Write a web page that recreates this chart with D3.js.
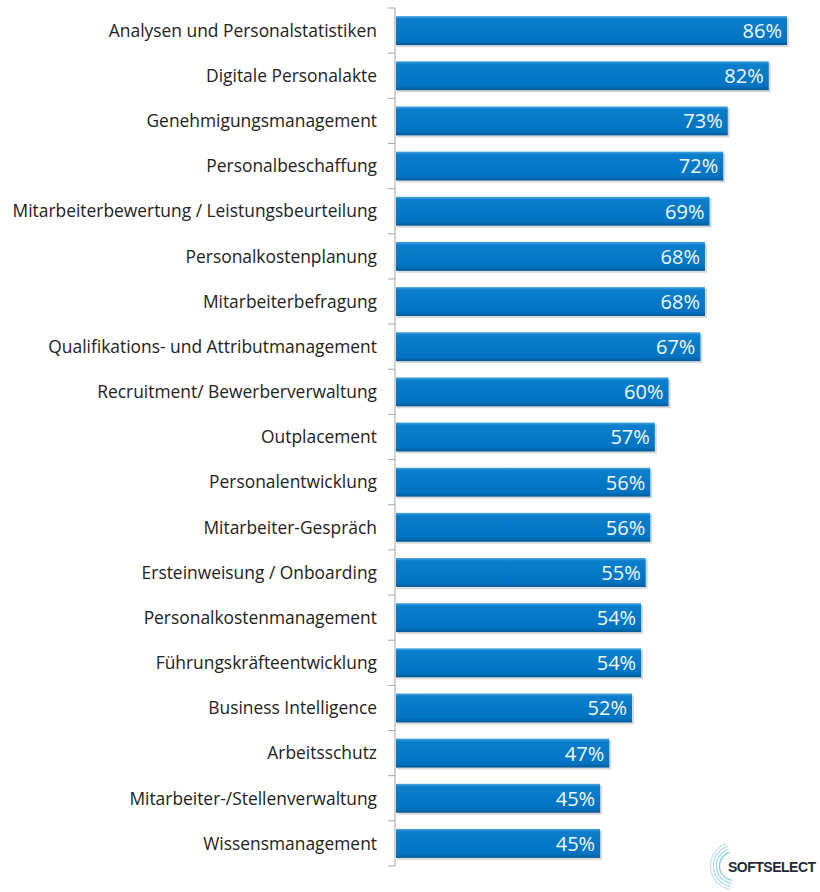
<!DOCTYPE html>
<html lang="de">
<head>
<meta charset="UTF-8">
<title>HR-Software Funktionen</title>
<script src="https://d3js.org/d3.v7.min.js"></script>
<style>
    body { margin: 0; background: #fff; }
    svg { display: block; }
</style>
</head>
<body>
<div id="chart"></div>
<script>
    const categories = [
        "Analysen und Personalstatistiken",
        "Digitale Personalakte",
        "Genehmigungsmanagement",
        "Personalbeschaffung",
        "Mitarbeiterbewertung / Leistungsbeurteilung",
        "Personalkostenplanung",
        "Mitarbeiterbefragung",
        "Qualifikations- und Attributmanagement",
        "Recruitment/ Bewerberverwaltung",
        "Outplacement",
        "Personalentwicklung",
        "Mitarbeiter-Gespräch",
        "Ersteinweisung / Onboarding",
        "Personalkostenmanagement",
        "Führungskräfteentwicklung",
        "Business Intelligence",
        "Arbeitsschutz",
        "Mitarbeiter-/Stellenverwaltung",
        "Wissensmanagement"
    ];
    const values = [86, 82, 73, 72, 69, 68, 68, 67, 60, 57, 56, 56, 55, 54, 54, 52, 47, 45, 45];

    const width = 820, height = 892;
    const margin = {top: 8, right: 33, bottom: 26, left: 395};

    const svg = d3.select("#chart").append("svg")
        .attr("width", width)
        .attr("height", height);

    const defs = svg.append("defs");
    const grad = defs.append("linearGradient")
        .attr("id", "barGrad")
        .attr("x1", 0).attr("y1", 0).attr("x2", 0).attr("y2", 1);
    grad.append("stop").attr("offset", "0%").attr("stop-color", "#4aa6e0");
    grad.append("stop").attr("offset", "10%").attr("stop-color", "#0b7fcc");
    grad.append("stop").attr("offset", "85%").attr("stop-color", "#0074c2");
    grad.append("stop").attr("offset", "100%").attr("stop-color", "#005a98");

    const x = d3.scaleLinear()
        .domain([0, 86])
        .range([margin.left, 787]);

    const y = d3.scaleBand()
        .domain(categories)
        .range([margin.top, height - margin.bottom])
        .paddingInner(0.36)
        .paddingOuter(0.18);

    // axis line, ticks sit between the categories
    const g = svg.append("g");
    g.append("line")
        .attr("x1", margin.left).attr("x2", margin.left)
        .attr("y1", margin.top).attr("y2", height - margin.bottom)
        .attr("stroke", "#a6a6a6").attr("stroke-width", 1);

    const boundaries = d3.range(categories.length + 1).map(i => margin.top + i * y.step());
    g.selectAll("line.tick")
        .data(boundaries)
        .enter()
        .append("line")
        .attr("class", "tick")
        .attr("x1", margin.left - 7).attr("x2", margin.left)
        .attr("y1", d => d).attr("y2", d => d)
        .attr("stroke", "#a6a6a6");

    // bar shadows
    svg.selectAll("rect.shadow")
        .data(values)
        .enter()
        .append("rect")
        .attr("class", "shadow")
        .attr("x", x(0) + 2)
        .attr("y", (d, i) => y(categories[i]) + 2)
        .attr("width", d => x(d) - x(0))
        .attr("height", y.bandwidth())
        .attr("fill", "#d9d9d9");

    svg.selectAll("rect.bar")
        .data(values)
        .enter()
        .append("rect")
        .attr("class", "bar")
        .attr("x", x(0) + 1)
        .attr("y", (d, i) => y(categories[i]))
        .attr("width", d => x(d) - x(0) - 1)
        .attr("height", y.bandwidth())
        .attr("fill", "url(#barGrad)");

    // value labels
    svg.selectAll("text.val")
        .data(values)
        .enter()
        .append("text")
        .attr("class", "val")
        .attr("x", d => x(d) - 5)
        .attr("y", (d, i) => y(categories[i]) + y.bandwidth() / 2)
        .attr("dy", "0.37em")
        .attr("text-anchor", "end")
        .attr("font-family", "'Open Sans', sans-serif")
        .attr("font-size", "20px")
        .attr("fill", "#f4f8fc")
        .text(d => d + "%");

    // category labels
    svg.selectAll("text.cat")
        .data(categories)
        .enter()
        .append("text")
        .attr("class", "cat")
        .attr("x", 377)
        .attr("y", d => y(d) + y.bandwidth() / 2)
        .attr("dy", "0.36em")
        .attr("text-anchor", "end")
        .attr("font-family", "'Open Sans', sans-serif")
        .attr("font-size", "17.4px")
        .attr("fill", "#222222")
        .text(d => d);

    // SoftSelect logo
    const logo = svg.append("g").attr("transform", "translate(716,862)");
    [0, 1, 2, 3].forEach(i => {
        logo.append("path")
            .attr("d", d3.arc()({
                innerRadius: 14 + i * 3,
                outerRadius: 15.2 + i * 3,
                startAngle: -Math.PI * 0.95,
                endAngle: -Math.PI * 0.1
            }))
            .attr("transform", "translate(18,4)")
            .attr("fill", "#7fc6e4")
            .attr("opacity", 0.9 - i * 0.15);
    });
    logo.append("text")
        .attr("x", 12).attr("y", 10)
        .attr("font-family", "'Liberation Sans Narrow', 'Liberation Sans', sans-serif")
        .attr("font-weight", "bold")
        .attr("font-size", "14px")
        .attr("letter-spacing", "-0.5px")
        .attr("fill", "#1f2a36")
        .text("SOFTSELECT");
</script>
</body>
</html>
